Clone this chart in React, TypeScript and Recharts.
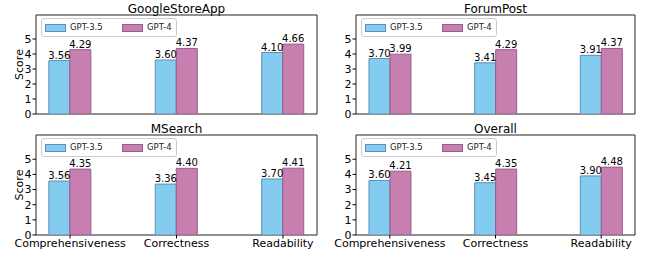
import React from 'react';
import { BarChart, Bar, XAxis, YAxis, LabelList, ReferenceArea } from 'recharts';

// categories on the x axis
const categories = ['Comprehensiveness', 'Correctness', 'Readability'];
const yTicks = [0, 1, 2, 3, 4, 5];

// scores per dataset
const googleGpt35 = [3.56, 3.6, 4.1];
const googleGpt4 = [4.29, 4.37, 4.66];
const forumGpt35 = [3.7, 3.41, 3.91];
const forumGpt4 = [3.99, 4.29, 4.37];
const msearchGpt35 = [3.56, 3.36, 3.7];
const msearchGpt4 = [4.35, 4.4, 4.41];
const overallGpt35 = [3.6, 3.45, 3.9];
const overallGpt4 = [4.21, 4.35, 4.48];

const BLUE = '#83CBEF';
const BLUE_EDGE = '#5E8FB9';
const PURPLE = '#C67FAE';
const PURPLE_EDGE = '#9A5C8C';

const X_MIN = -0.32;
const X_MAX = 2.32;
const Y_MAX = 6.6;

interface PanelProps {
  title: string;
  gpt35: number[];
  gpt4: number[];
  left: number;
  top: number;
  width: number;
  height: number;
  plotTop: number;
  yAxisWidth: number;
  rightMargin: number;
  xAxisHeight: number;
  showScore: boolean;
  showXLabels: boolean;
}

const fmt = (v: any) => Number(v).toFixed(2);

const Panel: React.FC<PanelProps> = (p) => {
  const rows = categories.map((c, i) => ({ x: i, name: c, gpt35: p.gpt35[i], gpt4: p.gpt4[i] }));
  const plotLeft = p.yAxisWidth;
  const plotWidth = p.width - p.yAxisWidth - p.rightMargin;

  return (
    <div style={{ position: 'absolute', left: p.left, top: p.top, width: p.width, height: p.height }}>
      {/* title */}
      <div
        style={{
          position: 'absolute',
          left: plotLeft,
          width: plotWidth,
          top: p.plotTop - 12,
          textAlign: 'center',
          fontSize: 12,
          lineHeight: '12px',
          color: '#000',
        }}
      >
        {p.title}
      </div>
      <BarChart
        width={p.width}
        height={p.height}
        data={rows}
        barGap={0}
        margin={{ top: p.plotTop, right: p.rightMargin, bottom: 0, left: 0 }}
      >
        <XAxis
          type="number"
          dataKey="x"
          domain={[X_MIN, X_MAX]}
          allowDataOverflow
          ticks={[0, 1, 2]}
          interval={0}
          height={p.xAxisHeight}
          axisLine={false}
          tickLine={{ stroke: '#000' }}
          tickSize={3.5}
          tickMargin={1}
          tick={p.showXLabels ? { fill: '#000', fontSize: 11 } : false}
          tickFormatter={(v: number) => categories[v]}
        />
        <YAxis
          type="number"
          domain={[0, Y_MAX]}
          allowDataOverflow
          ticks={yTicks}
          interval={0}
          width={p.yAxisWidth}
          axisLine={false}
          tickLine={{ stroke: '#000' }}
          tickSize={3.5}
          tickMargin={1}
          tick={{ fill: '#000', fontSize: 11 }}
          label={
            p.showScore
              ? {
                  content: (props: any) => {
                    const vb = props.viewBox || { x: 0, y: p.plotTop, height: 99 };
                    const cx = (vb.x || 0) + 23;
                    const cy = vb.y + vb.height / 2;
                    return (
                      <text
                        x={cx}
                        y={cy}
                        transform={`rotate(-90 ${cx} ${cy})`}
                        textAnchor="middle"
                        fontSize={11}
                        fill="#000"
                      >
                        Score
                      </text>
                    );
                  },
                }
              : undefined
          }
        />
        <Bar dataKey="gpt35" barSize={21} fill={BLUE} stroke={BLUE_EDGE} strokeWidth={1} isAnimationActive={false}>
          <LabelList dataKey="gpt35" position="top" offset={2} fontSize={10} fill="#000" formatter={fmt} />
        </Bar>
        <Bar dataKey="gpt4" barSize={21} fill={PURPLE} stroke={PURPLE_EDGE} strokeWidth={1} isAnimationActive={false}>
          <LabelList dataKey="gpt4" position="top" offset={2} fontSize={10} fill="#000" formatter={fmt} />
        </Bar>
        <ReferenceArea x1={X_MIN} x2={X_MAX} y1={0} y2={Y_MAX} fill="none" stroke="#222" strokeWidth={1} ifOverflow="visible" />
      </BarChart>
      {/* legend */}
      <div
        style={{
          position: 'absolute',
          left: plotLeft + 5,
          top: p.plotTop + 3,
          width: 134,
          height: 17,
          border: '1px solid #cccccc',
          borderRadius: 3,
          background: 'rgba(255,255,255,0.85)',
          fontSize: 8.5,
          color: '#222',
        }}
      >
        <div style={{ position: 'absolute', left: 3, top: 5, width: 19, height: 6, background: BLUE, border: `1px solid ${BLUE_EDGE}` }} />
        <div style={{ position: 'absolute', left: 28, top: 2, lineHeight: '12px' }}>GPT-3.5</div>
        <div style={{ position: 'absolute', left: 80, top: 5, width: 19, height: 6, background: PURPLE, border: `1px solid ${PURPLE_EDGE}` }} />
        <div style={{ position: 'absolute', left: 105, top: 2, lineHeight: '12px' }}>GPT-4</div>
      </div>
    </div>
  );
};

const App: React.FC = () => {
  return (
    <div
      style={{
        position: 'fixed',
        left: 0,
        top: 0,
        width: 648,
        height: 258,
        background: '#fff',
        fontFamily: '"DejaVu Sans", sans-serif',
      }}
    >
      <Panel title="GoogleStoreApp" gpt35={googleGpt35} gpt4={googleGpt4}
        left={0} top={0} width={324} height={124} plotTop={15} yAxisWidth={36} rightMargin={7}
        xAxisHeight={10} showScore showXLabels={false} />
      <Panel title="ForumPost" gpt35={forumGpt35} gpt4={forumGpt4}
        left={324} top={0} width={324} height={124} plotTop={15} yAxisWidth={32} rightMargin={13}
        xAxisHeight={10} showScore={false} showXLabels={false} />
      <Panel title="MSearch" gpt35={msearchGpt35} gpt4={msearchGpt4}
        left={0} top={124} width={324} height={134} plotTop={11} yAxisWidth={36} rightMargin={7}
        xAxisHeight={23} showScore showXLabels />
      <Panel title="Overall" gpt35={overallGpt35} gpt4={overallGpt4}
        left={324} top={124} width={324} height={134} plotTop={11} yAxisWidth={32} rightMargin={13}
        xAxisHeight={23} showScore={false} showXLabels />
    </div>
  );
};

export default App;
